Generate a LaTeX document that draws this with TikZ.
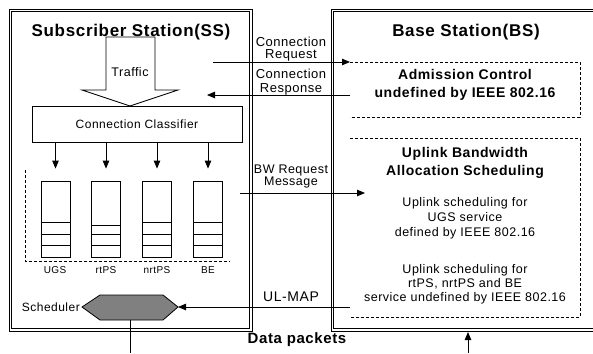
\documentclass[tikz,border=0pt]{standalone}
\usepackage{fontspec}
\setmainfont{Liberation Sans}[LetterSpace=4]
\usetikzlibrary{arrows.meta}
\newcommand\myfs[2]{\fontsize{#1}{#2}\selectfont}
\tikzset{
  box/.style={draw, line width=0.8pt},
  outerline/.style={draw=black, line width=0.8pt},
  lbl/.style={inner sep=0pt, align=center},
  arr/.style={-{Triangle[length=8pt,width=6.5pt]}, line width=0.8pt},
  dsh/.style={line width=0.8pt, dash pattern=on 3pt off 2pt},
  qbox/.style={draw, line width=0.8pt, minimum width=29pt, minimum height=76pt, inner sep=0pt},
}
\begin{document}
\begin{tikzpicture}[x=1pt,y=-1pt]
\useasboundingbox (0,0) rectangle (593,353);
% SS outer double frame
\draw[outerline] (9,9) rectangle (252,331);
\draw[outerline] (11.5,11.5) rectangle (249.5,328.5);
% BS outer double frame (right side off the picture)
\draw[outerline] (593,9) -- (331,9) -- (331,331) -- (593,331);
\draw[outerline] (593,11.5) -- (333.5,11.5) -- (333.5,328.5) -- (593,328.5);
% titles
\node[lbl, font=\bfseries\myfs{17}{20}] (sst) at (131,32) {Subscriber Station(SS)};
\node[lbl, font=\bfseries\myfs{17}{20}] (bst) at (466,32) {Base Station(BS)};
% traffic block arrow
\draw[box] (106,37) -- (155,37) -- (155,90) -- (178,90) -- (130,106) -- (82,90) -- (106,90) -- cycle;
\node[lbl, font=\myfs{12.5}{14}] (traffic) at (130,72) {Traffic};
% classifier
\node[box, minimum width=210pt, minimum height=36pt, inner sep=0pt, font=\myfs{12}{14}] (cc) at (137,124) {Connection Classifier};
% queues
\node[qbox] (q1) at (55.5,219) {};
\node[qbox] (q2) at (106,219) {};
\node[qbox] (q3) at (157,219) {};
\node[qbox] (q4) at (208,219) {};
\foreach \q/\a in {q1/222,q3/222,q4/222,q2/225}{
  \draw[line width=0.8pt] (\q.west |- 0,\a) -- (\q.east |- 0,\a);
  \draw[line width=0.8pt] (\q.west |- 0,234) -- (\q.east |- 0,234);
  \draw[line width=0.8pt] (\q.west |- 0,245) -- (\q.east |- 0,245);
}
\foreach \q in {q1,q2,q3,q4}{
  \draw[arr] (cc.south -| \q.north) -- ([yshift=12pt]\q.north);
}
\node[lbl, font=\myfs{10}{12}] (l1) at (55,270) {UGS};
\node[lbl, font=\myfs{10}{12}] (l2) at (106,270) {rtPS};
\node[lbl, font=\myfs{10}{12}] (l3) at (157,270) {nrtPS};
\node[lbl, font=\myfs{10}{12}] (l4) at (208,270) {BE};
\draw[dsh] (25,170) -- (25,261) -- (230,261);
% scheduler
\coordinate (schL) at (82,307);
\coordinate (schR) at (178,307);
\coordinate (schB) at (130,320);
\draw[line width=0.8pt, fill=black!50] (schL) -- (100,295) -- (163,295) -- (schR) -- (163,320) -- (100,320) -- cycle;
\node[lbl, anchor=east, font=\myfs{12}{14}] (schl) at (80,307) {Scheduler};
\coordinate (dpL) at (130,353);
\draw[line width=0.8pt] (schB) -- (dpL);
% BS dashed boxes
\coordinate (acTL) at (350,62);
\coordinate (acL) at (350,95);
\draw[dsh] (acTL) -- (580,62) -- (580,117) -- (350,117);
\coordinate (ubTL) at (350,138);
\coordinate (ubL) at (350,307);
\draw[dsh] (ubTL) -- (580,138) -- (580,317) -- (350,317);
\node[lbl, font=\bfseries\myfs{14}{18}] (acT) at (465,85) {Admission Control\\undefined by IEEE 802.16};
\node[lbl, font=\bfseries\myfs{14}{18}] (ubT) at (465,163) {Uplink Bandwidth\\Allocation Scheduling};
\node[lbl, font=\myfs{12.5}{15}] (u1T) at (465,218) {Uplink scheduling for\\UGS service\\defined by IEEE 802.16};
\node[lbl, font=\myfs{12.5}{14}] (u2T) at (465,284) {Uplink scheduling for\\rtPS, nrtPS and BE\\service undefined by IEEE 802.16};
% middle messages
\coordinate (crqS) at (213,62);
\coordinate (crsE) at (207,95);
\coordinate (bwS) at (240,193);
\coordinate (bwE) at (365,193);
\node[lbl, font=\myfs{13}{12}] (crq) at (291,49) {Connection\\Request};
\node[lbl, font=\myfs{13}{14}] (crs) at (291,82) {Connection\\Response};
\node[lbl, font=\myfs{12.5}{12}] (bwr) at (291,176) {BW Request\\Message};
\node[lbl, font=\myfs{14}{16}] (ulm) at (291,297) {UL-MAP};
\draw[arr] (crqS) -- (acTL);
\draw[arr] (acL) -- (crsE);
\draw[arr] (bwS) -- (bwE);
\draw[arr] (ubL) -- (schR);
% data packets
\node[lbl, font=\bfseries\myfs{15}{18}] (dp) at (297,340) {Data packets};
\coordinate (dpR) at (468,353);
\coordinate (bsbot) at (468,332);
\draw[arr] (dpR) -- (bsbot);
\end{tikzpicture}
\end{document}
